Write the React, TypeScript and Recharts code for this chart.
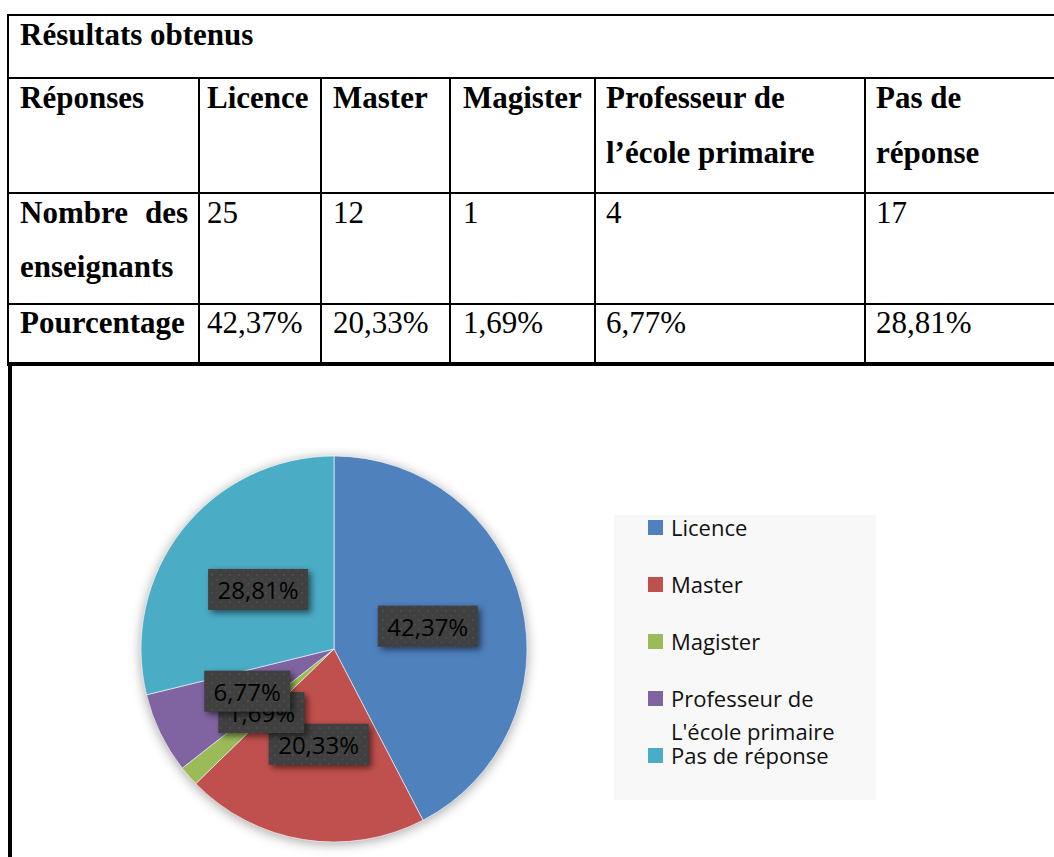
import React from 'react';
import { PieChart, Pie, Cell, Legend } from 'recharts';

const categories = ['Licence', 'Master', 'Magister', "Professeur de L'école primaire", 'Pas de réponse'];
const teacherCounts = [25, 12, 1, 4, 17];
const percentLabels = ['42,37%', '20,33%', '1,69%', '6,77%', '28,81%'];
const headerLines = [['Licence'], ['Master'], ['Magister'], ['Professeur de', 'l’école primaire'], ['Pas de', 'réponse']];
const sliceColors = ['#4f81bd', '#c0504d', '#9bbb59', '#8064a2', '#4bacc6'];

const pieData = categories.map((name, i) => ({ name, value: teacherCounts[i], label: percentLabels[i] }));

// table geometry
const colLines = [7, 198, 320, 449, 594, 864];
const textX = [20, 207, 333, 463, 606, 876];
const SERIF = "'Liberation Serif', 'Times New Roman', serif";
const SANS = "'Open Sans', 'Noto Sans', sans-serif";
const RADIAN = Math.PI / 180;

function Txt({ x, base, bold, children, width }: any) {
  return (
    <div style={{ position: 'absolute', left: x, top: base - 27.5, width, fontFamily: SERIF, fontSize: 31, lineHeight: '34px', fontWeight: bold ? 700 : 400, color: '#000', whiteSpace: 'nowrap', display: width ? 'flex' : 'block', justifyContent: 'space-between' }}>
      {children}
    </div>
  );
}

function Line({ x, y, w, h }: any) {
  return <div style={{ position: 'absolute', left: x, top: y, width: w, height: h, background: '#000' }} />;
}

function ResultsTable() {
  return (
    <>
      <Line x={7} y={14} w={1060} h={2} />
      <Line x={7} y={77} w={1060} h={2} />
      <Line x={7} y={192} w={1060} h={2} />
      <Line x={7} y={303} w={1060} h={2} />
      <Line x={7} y={362} w={1060} h={4} />
      <Line x={7} y={14} w={2} h={350} />
      {colLines.slice(1).map((x) => <Line key={x} x={x} y={77} w={2} h={287} />)}
      <Line x={8} y={364} w={4} h={500} />

      <Txt x={20} base={45} bold>Résultats obtenus</Txt>
      <Txt x={textX[0]} base={108} bold>Réponses</Txt>
      {headerLines.map((lines, i) =>
        lines.map((l, j) => <Txt key={`${i}-${j}`} x={textX[i + 1]} base={108 + j * 55} bold>{l}</Txt>)
      )}
      <Txt x={textX[0]} base={223} bold width={168}><span>Nombre</span><span>des</span></Txt>
      <Txt x={textX[0]} base={277} bold>enseignants</Txt>
      {teacherCounts.map((v, i) => <Txt key={i} x={textX[i + 1]} base={223}>{v}</Txt>)}
      <Txt x={textX[0]} base={333} bold>Pourcentage</Txt>
      {percentLabels.map((v, i) => <Txt key={i} x={textX[i + 1]} base={333}>{v}</Txt>)}
    </>
  );
}

const renderLabel = (props: any) => {
  const { cx, cy, midAngle, outerRadius, index } = props;
  const r = outerRadius * 0.5;
  const x = cx + r * Math.cos(-midAngle * RADIAN);
  const y = cy + r * Math.sin(-midAngle * RADIAN);
  const text = pieData[index].label;
  const w = text.length * 14 + 16;
  const h = 41;
  return (
    <g key={`lbl-${index}`}>
      <rect x={x - w / 2} y={y - h / 2} width={w} height={h} fill="#404040" style={{ filter: 'drop-shadow(3px 3px 3px rgba(0,0,0,0.55))' }} />
      <rect x={x - w / 2} y={y - h / 2} width={w} height={h} fill="url(#dotPattern)" />
      <text x={x} y={y} textAnchor="middle" dominantBaseline="central" fontFamily={SANS} fontSize={24} fill="#000">
        {text}
      </text>
    </g>
  );
};

const renderLegend = () => (
  <div style={{ position: 'relative', width: 262, height: 285, background: '#f8f8f8' }}>
    {categories.map((name, i) => (
      <div key={name} style={{ position: 'absolute', left: 34, top: i * 57 - 4, display: 'flex', alignItems: 'flex-start' }}>
        <div style={{ width: 15, height: 15, background: sliceColors[i], marginTop: 9, marginRight: 8 }} />
        <div style={{ fontFamily: SANS, fontSize: 22, lineHeight: '33px', color: '#111', width: 190 }}>{name}</div>
      </div>
    ))}
  </div>
);

export default function App() {
  return (
    <div style={{ position: 'absolute', left: 0, top: 0, width: 1054, height: 857, overflow: 'hidden', background: '#fff' }}>
      <style>{'.pie-wrap g:has(> .recharts-pie-sector) { filter: drop-shadow(0 2px 6px rgba(0,0,0,0.35)); }'}</style>
      <ResultsTable />
      <div className="pie-wrap" style={{ position: 'absolute', left: 12, top: 366 }}>
        <PieChart width={1042} height={491} margin={{ top: 0, right: 0, bottom: 0, left: 0 }}>
          <defs>
            <pattern id="dotPattern" width={9} height={9} patternUnits="userSpaceOnUse">
              <circle cx={2} cy={2} r={1} fill="#505050" />
              <circle cx={6.5} cy={6.5} r={1} fill="#4a4a4a" />
            </pattern>
          </defs>
          <Pie
            data={pieData}
            dataKey="value"
            nameKey="name"
            cx={322}
            cy={283}
            outerRadius={193}
            startAngle={90}
            endAngle={-270}
            stroke="#ffffff"
            strokeWidth={0.6}
            label={renderLabel}
            labelLine={false}
            isAnimationActive={false}
          >
            {pieData.map((d, i) => <Cell key={d.name} fill={sliceColors[i]} />)}
          </Pie>
          <Legend content={renderLegend} wrapperStyle={{ left: 602, top: 149, width: 262, height: 285 }} />
        </PieChart>
      </div>
    </div>
  );
}
